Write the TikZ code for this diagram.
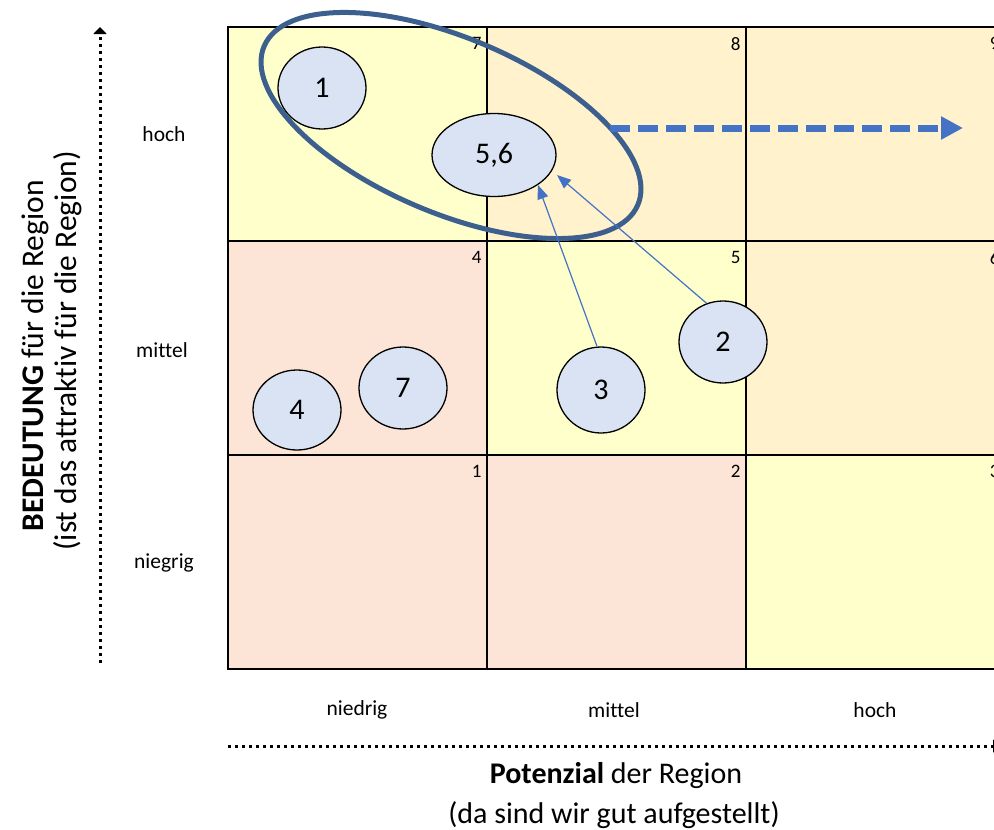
\documentclass[tikz,border=0pt]{standalone}
\usepackage{fontspec}
\setmainfont{Carlito}[Ligatures=NoCommon]
\usetikzlibrary{arrows.meta,shapes.geometric}
\definecolor{cy}{HTML}{FFFFCC}
\definecolor{co}{HTML}{FFF2CC}
\definecolor{cp}{HTML}{FCE4D6}
\definecolor{bubfill}{HTML}{DAE3F3}
\definecolor{bigblue}{HTML}{3C5F8E}
\definecolor{arrblue}{HTML}{4472C4}
\tikzset{
  cell/.style={rectangle, draw=black, line width=1.6pt, minimum width=259pt, minimum height=214pt, inner sep=0pt},
  cellnum/.style={anchor=north east, inner sep=0pt, font=\fontsize{19}{21}\selectfont},
  bub/.style={ellipse, draw=black, line width=1.3pt, fill=bubfill, inner sep=0pt, font=\fontsize{30}{34}\selectfont},
  axlab/.style={font=\fontsize{21.5}{25}\selectfont, inner sep=0pt},
  dotline/.style={line width=3pt, dash pattern=on 3pt off 4pt},
  thinarr/.style={draw=arrblue, line width=1.2pt, -{Triangle[length=14pt,width=11pt]}},
  bigtext/.style={font=\fontsize{30}{34}\selectfont, inner sep=0pt},
  ytext/.style={font=\fontsize{31.5}{36}\selectfont, inner sep=0pt, rotate=90}
}
\begin{document}
\begin{tikzpicture}[x=1pt,y=-1pt]
\useasboundingbox (0,0) rectangle (994,830);
\begin{scope}
\clip (0,0) rectangle (994,830);
% cells
\node[cell, fill=cy] (c7) at (357.5,134) {};
\node[cell, fill=co] (c8) at (616.5,134) {};
\node[cell, fill=co] (c9) at (875.5,134) {};
\node[cell, fill=cp] (c4) at (357.5,348) {};
\node[cell, fill=cy] (c5) at (616.5,348) {};
\node[cell, fill=co] (c6) at (875.5,348) {};
\node[cell, fill=cp] (c1) at (357.5,562) {};
\node[cell, fill=cp] (c2) at (616.5,562) {};
\node[cell, fill=cy] (c3) at (875.5,562) {};
% cell numbers
\foreach \c in {1,...,9}{
  \node[cellnum] (num\c) at ([xshift=-6pt,yshift=-11pt]c\c.north east) {\c};
}
% axis arrows
\coordinate (xl) at (228,746);
\coordinate (xr) at (1000,746);
\draw[dotline, -{Triangle[length=7pt,width=13pt]}] (xl) -- (xr);
\coordinate (yb) at (100,663);
\coordinate (yt) at (100,27);
\draw[dotline, -{Triangle[length=7pt,width=13pt]}] (yb) -- (yt);
% row / column labels
\node[axlab] (rhoch) at (164,134) {hoch};
\node[axlab] (rmittel) at (162,350) {mittel};
\node[axlab] (rniedrig) at (164,563) {niegrig};
\node[axlab] (cniedrig) at (357,710) {niedrig};
\node[axlab] (cmittel) at (614,710) {mittel};
\node[axlab] (choch) at (875,710) {hoch};
% axis titles
\node[bigtext] (xt1) at (616,776) {\textbf{Potenzial} der Region};
\node[bigtext] (xt2) at (614,815) {(da sind wir gut aufgestellt)};
\node[ytext] (yt1) at (35,356) {\textbf{BEDEUTUNG} für die Region};
\node[ytext] (yt2) at (68,351) {(ist das attraktiv für die Region)};
% bubbles
\node[bub, minimum width=88pt, minimum height=82pt] (n1) at (322,88) {1};
\node[bub, minimum width=124pt, minimum height=83pt] (n56) at (494,155) {5,6};
\node[bub, minimum width=88pt, minimum height=82pt] (n2) at (723,342) {2};
\node[bub, minimum width=88pt, minimum height=86pt] (n3) at (601,390) {3};
\node[bub, minimum width=88pt, minimum height=82pt] (n7) at (403,388) {7};
\node[bub, minimum width=88pt, minimum height=80pt] (n4) at (297,410) {4};
% big ellipse
\coordinate (bigc) at (451,125.5);
\draw[bigblue, line width=5pt, rotate around={-23:(bigc)}] (bigc) ellipse [x radius=203, y radius=87.5];
% thin arrows
\coordinate (t3) at (538,185);
\coordinate (t2) at (557,175);
\draw[thinarr] (n3.north) ++(-4,0) -- (t3);
\draw[thinarr] (n2.113) -- (t2);
% dashed arrow
\coordinate (ds) at (610,128);
\coordinate (de) at (963,128);
\draw[arrblue, line width=7pt, dash pattern=on 20pt off 8pt, -{Triangle[length=22pt,width=22pt]}] (ds) -- (de);
\end{scope}
\end{tikzpicture}
\end{document}
